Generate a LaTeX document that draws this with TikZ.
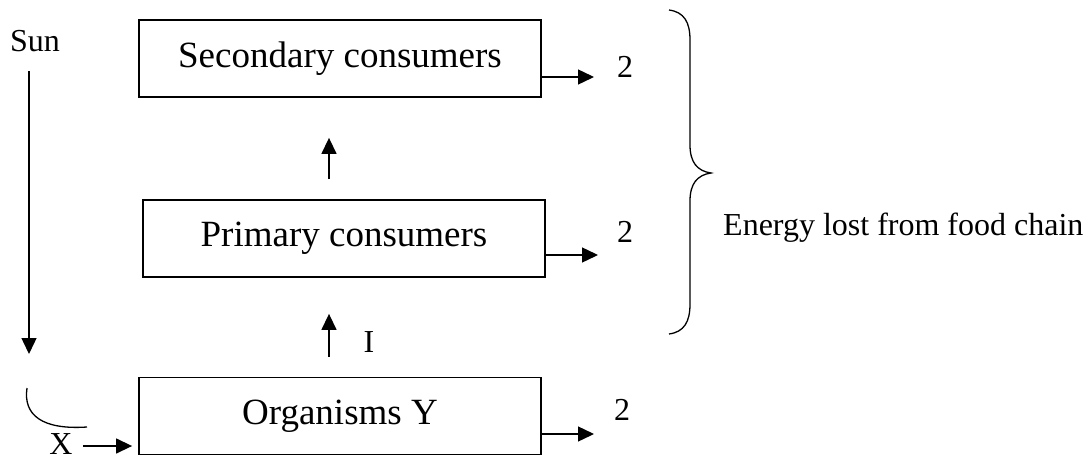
\documentclass[tikz,border=0pt]{standalone}
\usepackage{fontspec}
\setmainfont{Liberation Serif}
\usetikzlibrary{arrows.meta,calc}
\begin{document}
\begin{tikzpicture}[x=1pt,y=-1pt,
  boxnode/.style={draw,line width=1.8pt,minimum width=402pt,minimum height=77pt,inner sep=0pt,font=\fontsize{37}{44}\selectfont},
  lbl/.style={inner sep=0pt,font=\fontsize{32}{38}\selectfont},
  arr/.style={line width=1.4pt,-{Triangle[length=16pt,width=15pt]}},
  plain/.style={line width=1.3pt}]
\useasboundingbox (0,0) rectangle (1089,460);
% boxes
\node[boxnode] (sec) at (340,58.5) {Secondary consumers};
\node[boxnode] (prim) at (344,238.5) {Primary consumers};
\node[boxnode] (org) at (340,416) {Organisms Y};
% labels
\node[lbl,anchor=base west] (sun) at (10,52) {Sun};
\node[lbl] (x) at (61,444) {X};
\node[lbl] (i) at (369,342) {I};
\node[lbl] (two1) at (625,67) {2};
\node[lbl] (two2) at (625,232) {2};
\node[lbl] (two3) at (622,410) {2};
\node[lbl,anchor=base west] (energy) at (723,235) {Energy lost from food chain};
% coordinates
\coordinate (ax) at (329,0);
\coordinate (sunA) at (29,71);
\coordinate (sunB) at (29,354);
\coordinate (e1) at (594,77);
\coordinate (e2) at (598,255);
\coordinate (e3) at (594,434);
% vertical arrows
\draw[arr,shorten <=20pt,shorten >=40pt] (prim.north -| ax) -- (sec.south -| ax);
\draw[arr,shorten <=20pt,shorten >=36pt] (org.north -| ax) -- (prim.south -| ax);
% energy loss arrows
\draw[arr] (sec.east |- e1) -- (e1);
\draw[arr] (prim.east |- e2) -- (e2);
\draw[arr] (org.east |- e3) -- (e3);
% sun arrow
\draw[arr] (sunA) -- (sunB);
% curve
\draw[plain] (27,388) .. controls (23,415) and (42,430) .. (87,427);
% X arrow
\draw[arr,shorten <=10pt,shorten >=6pt] (x.east |- 0,446) -- (org.west |- 0,446);
% brace
\draw[line width=1.3pt] (669,10) .. controls (684,12) and (690,22) .. (690,40)
  -- (690,145) .. controls (690,162) and (697,171) .. (711,173)
  .. controls (697,175) and (690,184) .. (690,201)
  -- (690,304) .. controls (690,322) and (684,332) .. (669,334);
\end{tikzpicture}
\end{document}
